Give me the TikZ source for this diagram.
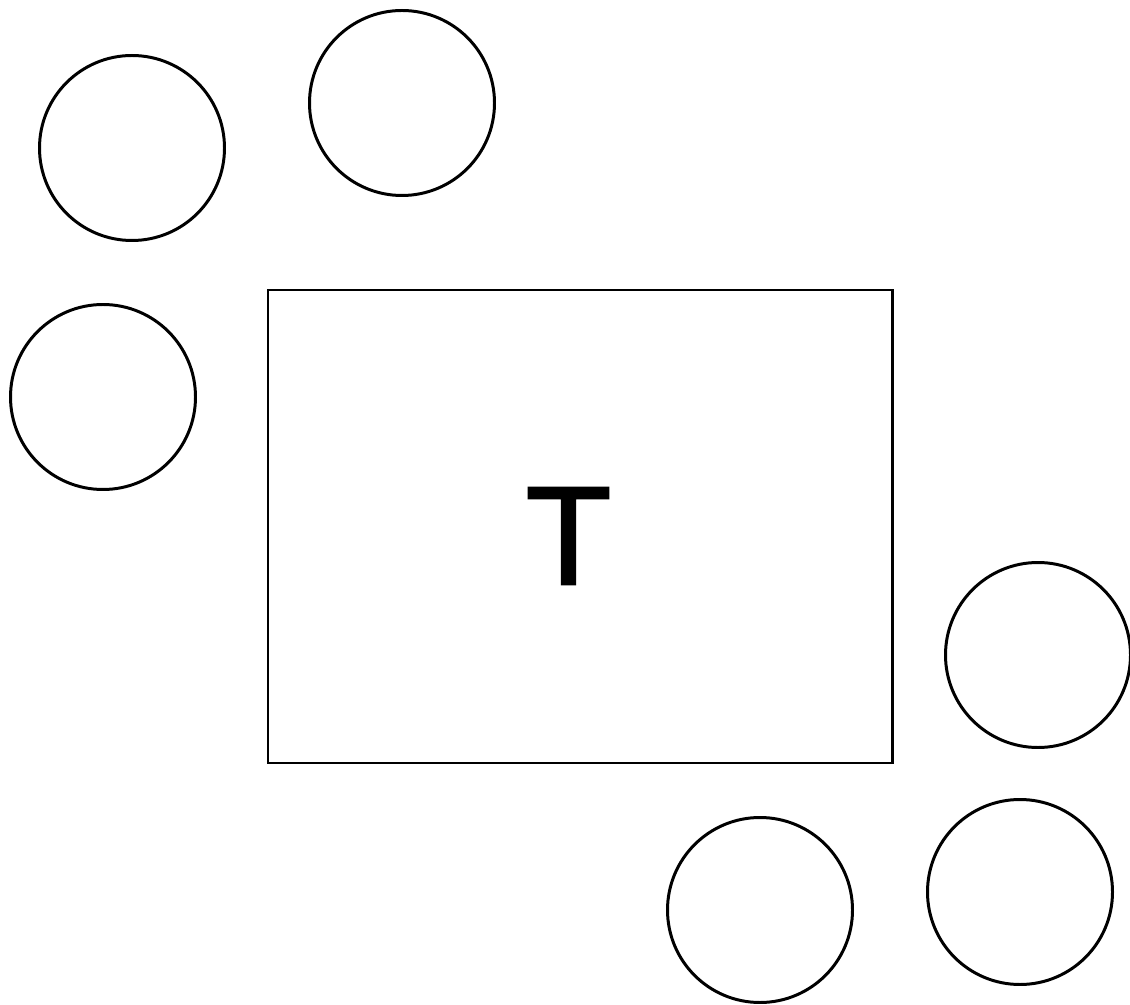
\documentclass[tikz,border=0pt]{standalone}
\usepackage{fontspec}
\setmainfont{Liberation Sans}
\usepackage{tikz}

\begin{document}
\begin{tikzpicture}[
  seat/.style={draw,circle,minimum size=3.7cm,inner sep=0pt},
  table/.style={draw,rectangle,minimum width=12.48cm,
    minimum height=9.46cm,inner sep=0pt},
  line width=1.7pt]
  \useasboundingbox (0,0) rectangle (22.6,-20.1);
  \node[table] (T) at (11.6,-10.53) {};
  \node[font=\fontsize{80}{80}\selectfont\addfontfeature{FakeBold=1.6},inner sep=0pt] (Tlabel) at (11.37,-10.72) {T};
  \node[seat] (S1) at (2.64,-2.96)   {};
  \node[seat] (S2) at (8.04,-2.06)   {};
  \node[seat] (S3) at (2.06,-7.94)   {};
  \node[seat] (S4) at (20.76,-13.10) {};
  \node[seat] (S5) at (15.2,-18.2)   {};
  \node[seat] (S6) at (20.4,-17.84)  {};
\end{tikzpicture}
\end{document}
